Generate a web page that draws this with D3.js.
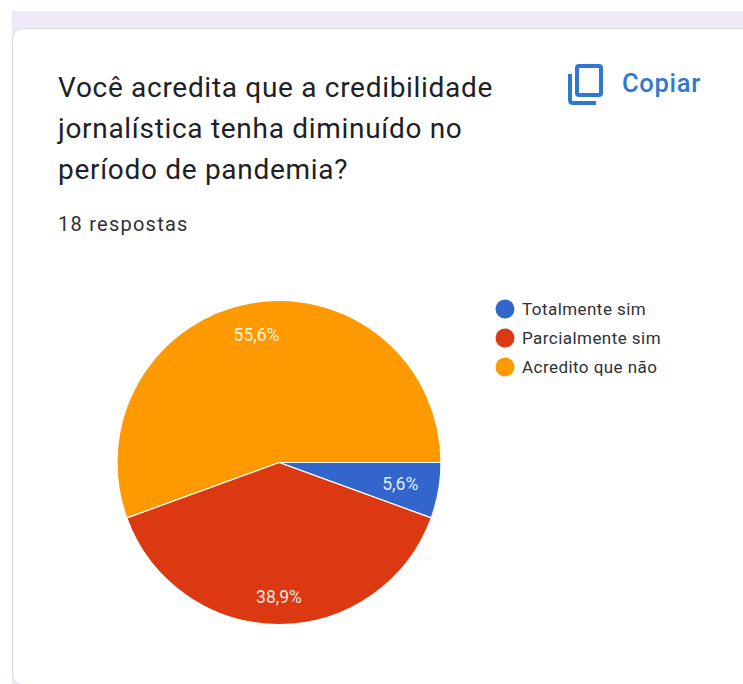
<!DOCTYPE html>
<html><head><meta charset="utf-8">
<script src="https://cdn.jsdelivr.net/npm/d3@7"></script>
<style>html,body{margin:0;padding:0;background:#fff}svg{display:block}</style>
</head><body><svg id="c" width="743" height="684"></svg>
<script>
const categories = ["Totalmente sim", "Parcialmente sim", "Acredito que não"];
const counts = [1, 7, 10];
const percentLabels = ["5,6%", "38,9%", "55,6%"];
const colours = ["#3366cc", "#dc3912", "#ff9900"];
const titleLines = ["Você acredita que a credibilidade", "jornalística tenha diminuído no", "período de pandemia?"];
const responsesLabel = "18 respostas";
const copyLabel = "Copiar";

const svg = d3.select("#c");
const font = "Roboto, sans-serif";

// page band and card
svg.append("rect").attr("width", 743).attr("height", 684).attr("fill", "#fff");
svg.append("rect").attr("x", 12).attr("y", 11).attr("width", 731).attr("height", 673).attr("fill", "#ede9f7");
svg.append("rect").attr("x", 12.5).attr("y", 28.5).attr("width", 760).attr("height", 656).attr("rx", 10)
  .attr("fill", "#fff").attr("stroke", "#dadce0");

// heading
svg.selectAll(".t").data(titleLines).join("text")
  .attr("x", 58).attr("y", (d, i) => 97 + i * 41)
  .attr("font-family", font).attr("font-size", 28).attr("letter-spacing", 0.7).attr("fill", "#202124")
  .text(d => d);
svg.append("text").attr("x", 58).attr("y", 231).attr("font-family", font).attr("font-size", 20)
  .attr("letter-spacing", 1.25).attr("fill", "#303134").text(responsesLabel);

// copy button
const blue = "#2f78d2";
svg.append("text").attr("x", 622).attr("y", 92).attr("font-family", font).attr("font-size", 25.5)
  .attr("font-weight", 500).attr("letter-spacing", 0.7).attr("fill", blue).text(copyLabel);
const icon = svg.append("g").attr("fill", "none").attr("stroke", blue).attr("stroke-width", 4);
icon.append("rect").attr("x", 577).attr("y", 66).attr("width", 24).attr("height", 29).attr("rx", 2);
icon.append("path").attr("d", "M570 74V100Q570 103 573 103H596");

// pie
const cx = 279, cy = 462.5, r = 162;
const labelRadius = [0.76, 0.83, 0.8];
const pie = d3.pie().sort(null).startAngle(Math.PI / 2).endAngle(Math.PI * 2.5);
const arc = d3.arc().innerRadius(0).outerRadius(r);
const g = svg.append("g").attr("transform", `translate(${cx},${cy})`);
const arcs = pie(counts);
g.selectAll("path").data(arcs).join("path").attr("d", arc)
  .attr("fill", (d, i) => colours[i]).attr("stroke", "#fff").attr("stroke-width", 1.2);
g.selectAll("text").data(arcs).join("text")
  .attr("transform", (d, i) => {
    const rr = r * labelRadius[i];
    return `translate(${d3.arc().innerRadius(rr).outerRadius(rr).centroid(d)})`;
  })
  .attr("text-anchor", "middle").attr("dy", "0.35em")
  .attr("font-family", font).attr("font-size", 17.5).attr("fill", "#fff").attr("fill-opacity", 0.9)
  .text((d, i) => percentLabels[i]);

// legend
const y = d3.scalePoint().domain(categories).range([309, 367]);
const legend = svg.append("g").selectAll("g").data(categories).join("g")
  .attr("transform", d => `translate(505,${y(d)})`);
legend.append("circle").attr("r", 9.5).attr("fill", (d, i) => colours[i]);
legend.append("text").attr("x", 17).attr("dy", "0.35em")
  .attr("font-family", font).attr("font-size", 17).attr("letter-spacing", 0.45).attr("fill", "#303134").text(d => d);
</script></body></html>
